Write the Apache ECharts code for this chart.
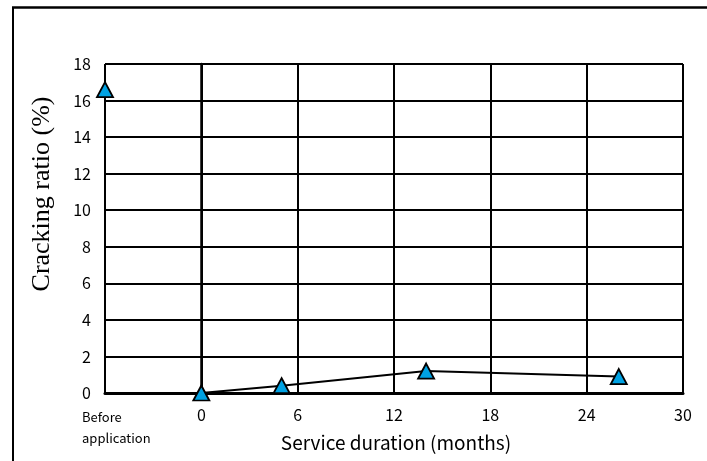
<!DOCTYPE html>
<html>
<head>
<meta charset="utf-8">
<script src="https://cdn.jsdelivr.net/npm/echarts@6/dist/echarts.min.js"></script>
<style>html,body{margin:0;padding:0;background:#fff;}#c{width:707px;height:461px;}</style>
</head>
<body>
<div id="c"></div>
<script>
// Data
var months = [0, 5, 14, 26];
var crackingRatio = [0, 0.4, 1.2, 0.9];
var beforeX = [-6];
var beforeValue = [16.6];
var xTickValues = [-6, 0, 6, 12, 18, 24, 30];
var yTickValues = [0, 2, 4, 6, 8, 10, 12, 14, 16, 18];
var xTitle = 'Service duration (months)';
var yTitle = 'Cracking ratio (%)';
var beforeLabel = 'Before\napplication';

var chart = echarts.init(document.getElementById('c'), null, {renderer: 'canvas'});
var sans = '"Noto Sans CJK JP", "Liberation Sans", sans-serif';
var lineData = months.map(function (m, i) { return [m, crackingRatio[i]]; });
var beforeData = beforeX.map(function (m, i) { return [m, beforeValue[i]]; });

chart.setOption({
  animation: false,
  backgroundColor: '#fff',
  grid: {left: 105, right: 24, top: 64, bottom: 68, containLabel: false},
  xAxis: {
    type: 'value', min: -6, max: 30, interval: 6,
    axisLine: {show: true, onZero: false, lineStyle: {color: '#000', width: 3}},
    axisTick: {show: false},
    splitLine: {show: true, lineStyle: {color: '#000', width: 2}},
    axisLabel: {
      margin: 14, fontFamily: sans, fontSize: 16, color: '#000',
      formatter: function (v) { return v === -6 ? '' : String(v); }
    }
  },
  yAxis: {
    type: 'value', min: 0, max: 18, interval: 2,
    axisLine: {show: true, lineStyle: {color: '#000', width: 2.5}},
    axisTick: {show: false},
    splitLine: {show: true, lineStyle: {color: '#000', width: 2}},
    axisLabel: {margin: 14, fontFamily: sans, fontSize: 16, color: '#000'}
  },
  graphic: [
    {type: 'line', shape: {x1: 13, y1: 7.5, x2: 13, y2: 470}, style: {stroke: '#000', lineWidth: 2}},
    {type: 'line', shape: {x1: 12, y1: 7.5, x2: 720, y2: 7.5}, style: {stroke: '#000', lineWidth: 2.5}},
    {type: 'text', x: 42, y: 194, rotation: Math.PI / 2,
     style: {text: yTitle, font: '26px "Liberation Serif", "Times New Roman", serif', fill: '#000', textAlign: 'center', textVerticalAlign: 'middle'}},
    {type: 'text', x: 396, y: 443,
     style: {text: xTitle, font: '19px ' + sans, fill: '#000', textAlign: 'center', textVerticalAlign: 'middle'}},
    {type: 'text', x: 82, y: 428,
     style: {text: beforeLabel, font: '13px ' + sans, fill: '#000', textAlign: 'left', textVerticalAlign: 'middle', lineHeight: 21}}
  ],
  series: [
    {
      type: 'line', data: lineData, clip: false, z: 5,
      lineStyle: {color: '#000', width: 2},
      symbol: 'triangle', symbolSize: [16, 15], showAllSymbol: true,
      itemStyle: {color: '#00a2e3', borderColor: '#000', borderWidth: 1.8}
    },
    {
      type: 'scatter', data: beforeData, clip: false, z: 5,
      symbol: 'triangle', symbolSize: [16, 15],
      itemStyle: {color: '#00a2e3', borderColor: '#000', borderWidth: 1.8, opacity: 1}
    }
  ]
});
</script>
</body>
</html>
